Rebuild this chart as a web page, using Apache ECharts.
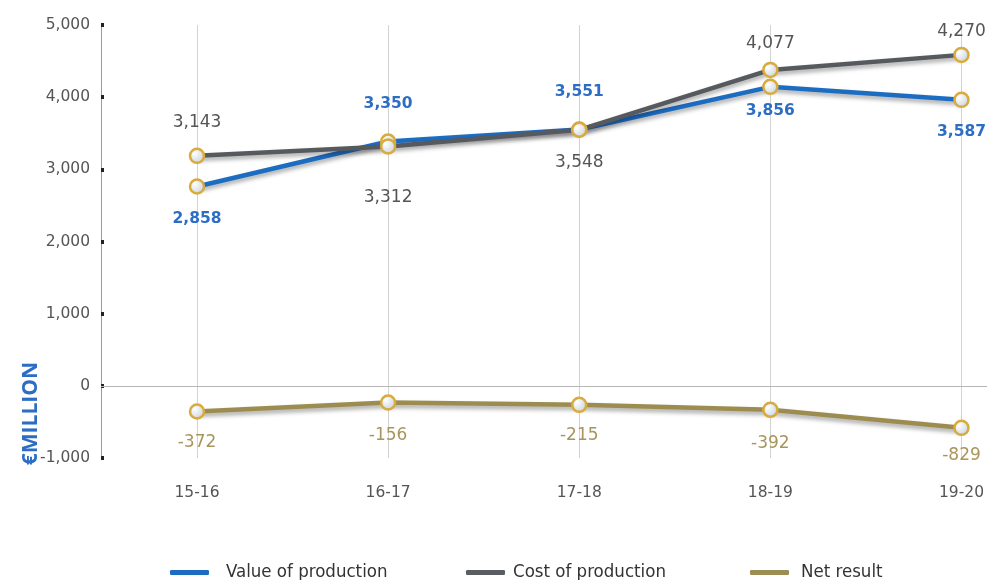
<!DOCTYPE html>
<html><head><meta charset="utf-8">
<script src="https://cdn.jsdelivr.net/npm/echarts@6/dist/echarts.min.js"></script>
<style>html,body{margin:0;padding:0;background:#fff}#c{width:987px;height:580px}</style>
</head><body><div id="c"></div>
<script>
var categories = ['15-16','16-17','17-18','18-19','19-20'];
// positions as plotted in the picture
var valueOfProduction = [2762, 3385, 3551, 4143, 3963];
var costOfProduction = [3187, 3318, 3548, 4378, 4586];
var netResult = [-356, -231, -263, -332, -582];
// printed labels
var valueLabels = [2858, 3350, 3551, 3856, 3587];
var costLabels = [3143, 3312, 3548, 4077, 4270];
var netLabels = [-372, -156, -215, -392, -829];
var yTicks = {min: -1000, max: 5000, interval: 1000};

var chart = echarts.init(document.getElementById('c'));
var FONT = '"DejaVu Sans", sans-serif';
function fmt(v){ return v.toLocaleString('en-US'); }
var symbolFill = new echarts.graphic.RadialGradient(0.35,0.35,0.7,[{offset:0,color:'#ffffff'},{offset:1,color:'#c9d2dc'}]);

function buildData(vals, labels, pos, dist, color, weight, size){
  return vals.map(function(v,i){
    return {value:v, label:{show:true, position:pos[i], distance:dist[i],
      formatter: fmt(labels[i]), color:color, fontSize:size, fontFamily:FONT, fontWeight:weight}};
  });
}
function lineSeries(name, color, data){
  return {
    name:name, type:'line', data:data, symbol:'circle', symbolSize:14,
    xAxisIndex:0, yAxisIndex:0,
    itemStyle:{color:symbolFill, borderColor:'#d9aa3c', borderWidth:2.5},
    lineStyle:{color:color, width:4.5, shadowColor:'rgba(0,0,0,0.35)', shadowBlur:4, shadowOffsetY:3},
    z:3
  };
}
var sValue = lineSeries('Value of production', '#1c6cc2',
  buildData(valueOfProduction, valueLabels, ['bottom','top','top','bottom','bottom'], [16,21,21,8,16], '#2d6ec4', 'bold', 15.5));
var sCost = lineSeries('Cost of production', '#56595e',
  buildData(costOfProduction, costLabels, ['top','bottom','bottom','top','top'], [17,34,16,10,7], '#555555', 'normal', 17));
var sNet = lineSeries('Net result', '#9c8c50',
  buildData(netResult, netLabels, ['bottom','bottom','bottom','bottom','bottom'], [14,16,14,17,11], '#a8955c', 'normal', 17));
var sZero = {type:'line', data:[], xAxisIndex:1, yAxisIndex:1, silent:true,
  markLine:{silent:true, symbol:'none', label:{show:false}, animation:false,
    lineStyle:{color:'#b5b5b5', width:1.2, type:'solid'}, data:[{yAxis:0}]}, z:1};

function legend(name, left, color, gap){
  return {data:[{name:name, itemStyle:{color:color, borderWidth:0}, lineStyle:{color:color}}], left:left, top:558,
    icon:'roundRect', itemWidth:39, itemHeight:5,
    textStyle:{fontSize:18.5, color:'#333', fontFamily:'"Liberation Sans Narrow", "DejaVu Sans Condensed", sans-serif', padding:[0,0,0,gap]}};
}

chart.setOption({
  backgroundColor:'#ffffff',
  animation:false,
  grid:[{left:197, right:25, top:25, bottom:122, containLabel:false},
        {left:101, right:0, top:25, bottom:122, containLabel:false}],
  legend:[legend('Value of production',165,'#1c6cc2',12), legend('Cost of production',461,'#5a5d62',3), legend('Net result',745,'#9c8d55',7)],
  xAxis:[{type:'category', data:categories, boundaryGap:false, gridIndex:0,
    axisLine:{show:false}, axisTick:{show:false},
    axisLabel:{margin:27, fontSize:15.5, color:'#555', fontFamily:FONT},
    splitLine:{show:true, lineStyle:{color:'#d2d2d2', width:1}}},
    {type:'value', gridIndex:1, min:0, max:1, show:false}],
  yAxis:[{type:'value', gridIndex:0, min:yTicks.min, max:yTicks.max, interval:yTicks.interval, show:false},
    {type:'value', gridIndex:1, min:yTicks.min, max:yTicks.max, interval:yTicks.interval,
    axisLine:{show:true, onZero:false, lineStyle:{color:'#9a9a9a', width:1}},
    axisTick:{show:true, inside:true, length:3, lineStyle:{color:'#222', width:4}},
    axisLabel:{margin:11, fontSize:15.5, color:'#555', fontFamily:FONT, formatter:function(v){return fmt(v);}},
    splitLine:{show:false}}],
  graphic:[{type:'text', left:21, top:362, rotation:Math.PI/2,
    style:{text:'€MILLION', fill:'#2d6ec4', font:'bold 21px "Open Sans", sans-serif'}}],
  series:[sZero, sValue, sCost, sNet]
});
</script></body></html>
